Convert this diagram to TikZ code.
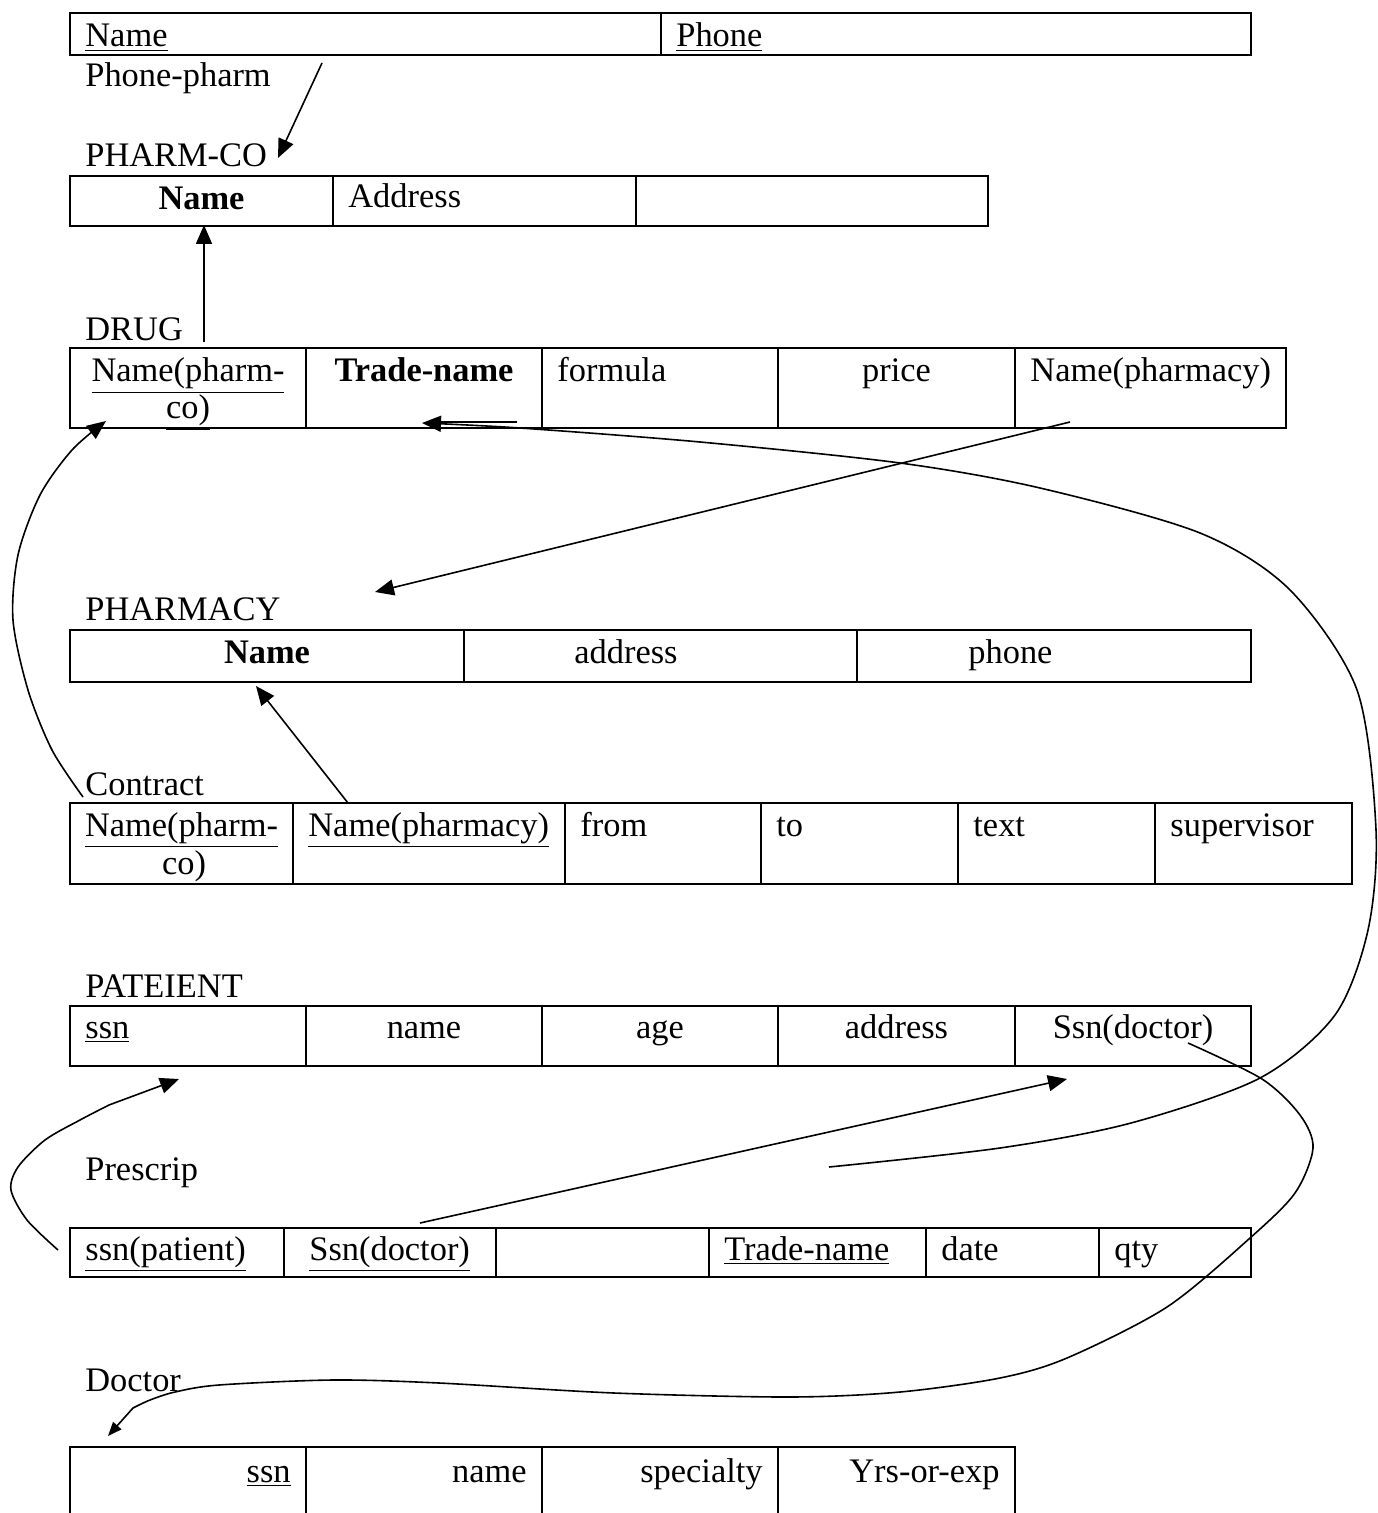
\documentclass[tikz,border=0pt]{standalone}
\usepackage{fontspec}
\setmainfont{Liberation Serif}
\usetikzlibrary{arrows.meta}
\tikzset{
 cellbox/.style={draw, line width=1pt, anchor=north west, inner sep=0pt, outer sep=0pt},
 opencell/.style={anchor=north west, inner sep=0pt, outer sep=0pt},
 txt/.style={inner sep=0pt, font=\fontsize{17.2}{20}\selectfont},
 lbl/.style={txt, anchor=base west},
 ctr/.style={txt, anchor=base},
 rgt/.style={txt, anchor=base east},
 conn/.style={line width=0.8pt},
 head/.style={-{Triangle[length=9.5pt,width=8pt]}},
 smallhead/.style={-{Triangle[length=7pt,width=5.5pt]}},
}
\newcommand\mkcell[5]{\node[cellbox, minimum width={(#4-#2)*0.5pt}, minimum height={(#5-#3)*0.5pt}] (#1) at (#2,#3) {};}
\newcommand\mkopen[5]{\node[opencell, minimum width={(#4-#2)*0.5pt}, minimum height={(#5-#3)*0.5pt}] (#1) at (#2,#3) {};
 \draw[line width=1pt] (#1.south west) -- (#1.north west) -- (#1.north east) -- (#1.south east);}
\begin{document}
\begin{tikzpicture}[x=0.5pt,y=-0.5pt]
\useasboundingbox (0,0) rectangle (1377,1513);
% ---------- Phone-pharm
\mkcell{pp1}{70}{13}{661}{55}
\mkcell{pp2}{661}{13}{1251}{55}
\node[lbl] (pp1t) at (85,47) {\underline{Name}};
\node[lbl] (pp2t) at (676,47) {\underline{Phone}};
\node[lbl] (lpp) at (85,87) {Phone-pharm};
% ---------- PHARM-CO
\node[lbl] (lpc) at (85,167) {PHARM-CO};
\mkcell{pc1}{70}{176}{333}{226}
\mkcell{pc2}{333}{176}{636}{226}
\mkcell{pc3}{636}{176}{988}{226}
\node[ctr] (pc1t) at (201.5,210) {\textbf{Name}};
\node[lbl] (pc2t) at (348,208) {Address};
% ---------- DRUG
\node[lbl] (ldr) at (85,341) {DRUG};
\mkcell{dr1}{70}{348}{306}{428}
\mkcell{dr2}{306}{348}{542}{428}
\mkcell{dr3}{542}{348}{778}{428}
\mkcell{dr4}{778}{348}{1015}{428}
\mkcell{dr5}{1015}{348}{1286}{428}
\node[ctr] (dr1t) at (188,382) {\underline{Name(pharm-}};
\node[ctr] (dr1u) at (188,419) {\underline{co)}};
\node[ctr] (dr2t) at (424,382) {\textbf{Trade-name}};
\node[lbl] (dr3t) at (557,382) {formula};
\node[ctr] (dr4t) at (896.5,382) {price};
\node[lbl] (dr5t) at (1030,382) {Name(pharmacy)};
% ---------- PHARMACY
\node[lbl] (lph) at (85,620) {PHARMACY};
\mkcell{ph1}{70}{630}{464}{682}
\mkcell{ph2}{464}{630}{857}{682}
\mkcell{ph3}{857}{630}{1251}{682}
\node[ctr] (ph1t) at (267,663) {\textbf{Name}};
\node[lbl] (ph2t) at (574,663) {address};
\node[lbl] (ph3t) at (968,663) {phone};
% ---------- Contract
\node[lbl] (lco) at (85,795) {Contract};
\mkcell{co1}{70}{803}{293}{884}
\mkcell{co2}{293}{803}{565}{884}
\mkcell{co3}{565}{803}{761}{884}
\mkcell{co4}{761}{803}{958}{884}
\mkcell{co5}{958}{803}{1155}{884}
\mkcell{co6}{1155}{803}{1352}{884}
\node[ctr] (co1t) at (181.5,836) {\underline{Name(pharm-}};
\node[ctr] (co1u) at (184,874) {\underline{co)}};
\node[lbl] (co2t) at (308,836) {\underline{Name(pharmacy)}};
\node[lbl] (co3t) at (580,836) {from};
\node[lbl] (co4t) at (776,836) {to};
\node[lbl] (co5t) at (973,836) {text};
\node[lbl] (co6t) at (1170,836) {supervisor};
% ---------- PATEIENT
\node[lbl] (lpa) at (85,997) {PATEIENT};
\mkcell{pa1}{70}{1006}{306}{1066}
\mkcell{pa2}{306}{1006}{542}{1066}
\mkcell{pa3}{542}{1006}{778}{1066}
\mkcell{pa4}{778}{1006}{1015}{1066}
\mkcell{pa5}{1015}{1006}{1251}{1066}
\node[lbl] (pa1t) at (85,1038) {\underline{ssn}};
\node[ctr] (pa2t) at (424,1038) {name};
\node[ctr] (pa3t) at (660,1038) {age};
\node[ctr] (pa4t) at (896.5,1038) {address};
\node[ctr] (pa5t) at (1133,1038) {Ssn(doctor)};
% ---------- Prescrip
\node[lbl] (lpr) at (85,1180) {Prescrip};
\mkcell{pr1}{70}{1228}{284}{1277}
\mkcell{pr2}{284}{1228}{496}{1277}
\mkcell{pr3}{496}{1228}{709}{1277}
\mkcell{pr4}{709}{1228}{926}{1277}
\mkcell{pr5}{926}{1228}{1099}{1277}
\mkcell{pr6}{1099}{1228}{1251}{1277}
\node[lbl] (pr1t) at (85,1260) {\underline{ssn(patient)}};
\node[lbl] (pr2t) at (309,1260) {\underline{Ssn(doctor)}};
\node[lbl] (pr4t) at (724,1260) {\underline{Trade-name}};
\node[lbl] (pr5t) at (941,1260) {date};
\node[lbl] (pr6t) at (1114,1260) {qty};
% ---------- Doctor
\node[lbl] (ldo) at (85,1391) {Doctor};
\mkopen{do1}{70}{1447}{306}{1513}
\mkopen{do2}{306}{1447}{542}{1513}
\mkopen{do3}{542}{1447}{778}{1513}
\mkopen{do4}{778}{1447}{1015}{1513}
\node[rgt] (do1t) at (291,1482) {\underline{ssn}};
\node[rgt] (do2t) at (527,1482) {name};
\node[rgt] (do3t) at (763,1482) {specialty};
\node[rgt] (do4t) at (1000,1482) {Yrs-or-exp};
% ---------- connector end points
\coordinate (a1s) at (322,63);  \coordinate (a1e) at (278,158);
\coordinate (a2s) at (204,342); \coordinate (a2e) at (204,225);
\coordinate (a3s) at (517,422); \coordinate (a3e) at (440,422);
\coordinate (a4s) at (1070,422); \coordinate (a4e) at (375,592);
\coordinate (a5s) at (83,797);  \coordinate (a5e) at (106,421);
\coordinate (a6s) at (348,803); \coordinate (a6e) at (256,686);
\coordinate (a7s) at (58,1250); \coordinate (a7e) at (179,1079);
\coordinate (a8s) at (420,1223); \coordinate (a8e) at (1067,1079);
\coordinate (a9s) at (829,1167); \coordinate (a9e) at (422,423);
\coordinate (a10s) at (1188,1043); \coordinate (a10e) at (108,1436);
% ---------- connectors
\draw[conn,head] (a1s) -- (a1e);
\draw[conn,head] (a2s) -- (a2e);
\draw[conn] (a3s) -- (a3e);
\draw[conn,head] (a4s) -- (a4e);
\draw[conn,head] plot[smooth] coordinates {(a5s) (52,750) (28,690) (13,620) (18,555) (40,495) (72,450) (a5e)};
\draw[conn,head] (a6s) -- (a6e);
\draw[conn,head] plot[smooth] coordinates {(a7s) (27,1220) (11,1190) (18,1167) (45,1140) (80,1120) (109,1105)} -- (a7e);
\draw[conn,head] (a8s) -- (a8e);
\draw[conn,head] plot[smooth] coordinates {(a9s) (1000,1148) (1131,1123) (1260,1078) (1335,1015) (1368,930) (1376,830) (1357,690) (1290,590) (1200,533) (1040,488) (900,463) (700,442) (520,428) (a9e)};
\draw[conn,smallhead] plot[smooth] coordinates {(a10s) (1262,1079) (1300,1115) (1313,1148) (1295,1193) (1250,1238) (1167,1307) (1067,1358) (1000,1378) (900,1392) (790,1397) (614,1393) (439,1383) (333,1380) (219,1385) (175,1392) (150,1400) (133,1408)} -- (a10e);
\end{tikzpicture}
\end{document}
